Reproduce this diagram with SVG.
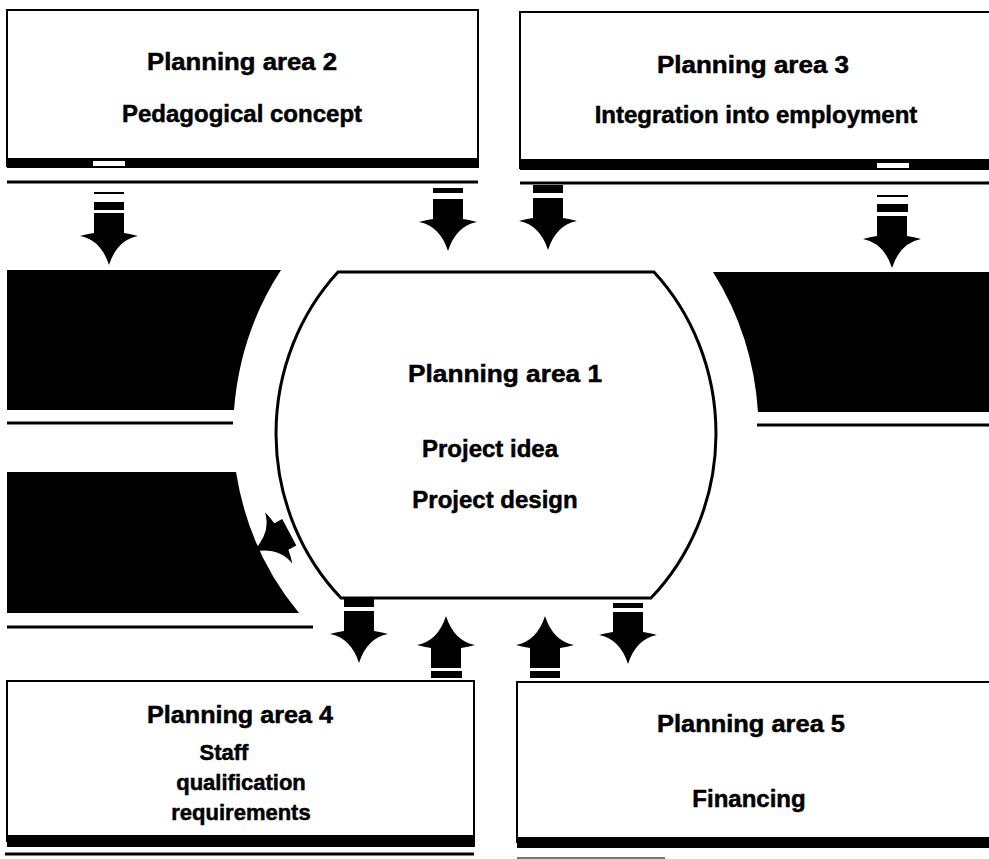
<svg xmlns="http://www.w3.org/2000/svg" xmlns:xlink="http://www.w3.org/1999/xlink" width="989" height="859" viewBox="0 0 989 859">
  <style>
    .box { fill: #fff; stroke: #000; stroke-width: 2; }
    .bar { fill: #000; }
    .rule { stroke: #000; stroke-width: 3; fill: none; }
    .band { fill: #000; }
    .core { fill: #fff; stroke: #000; stroke-width: 3; }
    .txt { font-family: "Liberation Sans", Arial, Helvetica, sans-serif; font-weight: bold; font-size: 24px; fill: #000; stroke: #000; stroke-width: 0.5; text-anchor: middle; }
    .small { font-size: 22px; }
    .arrow { fill: #000; }
  </style>
  <defs>
    <!-- spade-headed block arrow pointing down; origin = top centre of shaft -->
    <path id="arrow-down" d="M -15 0 H 15 V 20 Q 22 21 29 23 Q 8 27 0 52 Q -8 27 -29 23 Q -22 21 -15 20 Z"/>
    <!-- same head with a short shaft -->
    <path id="arrow-head" d="M -15 11 H 15 V 20 Q 22 21 29 23 Q 8 27 0 52 Q -8 27 -29 23 Q -22 21 -15 20 Z"/>
  </defs>

  <rect width="989" height="859" fill="#fff"/>

  <!-- black side bands around the central area -->
  <g id="bands">
    <path class="band" d="M 7 270 H 281 A 263 284 0 0 0 234 410 H 7 Z"/>
    <line class="rule" x1="7" y1="423" x2="233" y2="423"/>
    <path class="band" d="M 989 272 H 713 A 263 284 0 0 1 758 412 H 989 Z"/>
    <line class="rule" x1="757" y1="425" x2="989" y2="425"/>
    <path class="band" d="M 7 472 H 236 A 263 284 0 0 0 299 613 H 7 Z"/>
    <line class="rule" x1="7" y1="627" x2="313" y2="627"/>
  </g>

  <!-- Planning area 2 -->
  <g id="area2">
    <rect class="box" x="7" y="10" width="471" height="156"/>
    <rect class="bar" x="7" y="158" width="472" height="10"/>
    <rect x="93" y="161" width="32" height="5" fill="#fff"/>
    <line class="rule" x1="7" y1="182" x2="478" y2="182"/>
    <text class="txt" x="242" y="70" textLength="190" lengthAdjust="spacingAndGlyphs">Planning area 2</text>
    <text class="txt" x="242" y="122">Pedagogical concept</text>
  </g>

  <!-- Planning area 3 -->
  <g id="area3">
    <rect class="box" x="520" y="12" width="480" height="156"/>
    <rect class="bar" x="520" y="159" width="470" height="11"/>
    <rect x="877" y="163" width="32" height="5" fill="#fff"/>
    <line class="rule" x1="520" y1="183" x2="989" y2="183"/>
    <text class="txt" x="753" y="73" textLength="192" lengthAdjust="spacingAndGlyphs">Planning area 3</text>
    <text class="txt" x="756" y="123">Integration into employment</text>
  </g>

  <!-- Planning area 1 (centre) -->
  <g id="area1">
    <path class="core" d="M 338 272 H 654 A 220 232 0 0 1 651 598 H 341 A 220 232 0 0 1 338 272 Z"/>
    <text class="txt" x="505" y="382" textLength="194" lengthAdjust="spacingAndGlyphs">Planning area 1</text>
    <text class="txt" x="490" y="457">Project idea</text>
    <text class="txt" x="495" y="508">Project design</text>
  </g>

  <!-- Planning area 4 -->
  <g id="area4">
    <rect class="box" x="7" y="681" width="467" height="160"/>
    <rect class="bar" x="7" y="835" width="468" height="12"/>
    <line class="rule" x1="5" y1="854" x2="474" y2="854"/>
    <text class="txt" x="240" y="723" textLength="186" lengthAdjust="spacingAndGlyphs">Planning area 4</text>
    <text class="txt small" x="224" y="760">Staff</text>
    <text class="txt small" x="241" y="790">qualification</text>
    <text class="txt small" x="241" y="820">requirements</text>
  </g>

  <!-- Planning area 5 -->
  <g id="area5">
    <rect class="box" x="517" y="682" width="480" height="160"/>
    <rect class="bar" x="517" y="837" width="472" height="11"/>
    <line x1="517" y1="858" x2="665" y2="858" stroke="#777" stroke-width="2"/>
    <text class="txt" x="751" y="732" textLength="188" lengthAdjust="spacingAndGlyphs">Planning area 5</text>
    <text class="txt" x="749" y="807">Financing</text>
  </g>

  <!-- connectors: block arrows with their stripe marks -->
  <g id="connectors" class="arrow">
    <!-- area 2 -> band -->
    <rect x="94" y="192" width="30" height="2"/>
    <rect x="94" y="202" width="30" height="8"/>
    <use xlink:href="#arrow-down" transform="translate(109 213)"/>
    <!-- area 2 -> area 1 -->
    <rect x="433" y="188" width="30" height="5"/>
    <use xlink:href="#arrow-down" transform="translate(448 199)"/>
    <!-- area 3 -> area 1 -->
    <rect x="533" y="185" width="30" height="8"/>
    <use xlink:href="#arrow-down" transform="translate(548 198)"/>
    <!-- area 3 -> band -->
    <rect x="877" y="195" width="31" height="2"/>
    <rect x="877" y="204" width="31" height="8"/>
    <use xlink:href="#arrow-down" transform="translate(892 216)"/>
    <!-- area 1 -> lower band -->
    <use xlink:href="#arrow-head" transform="translate(299 527) rotate(62)"/>
    <!-- area 1 -> area 4 -->
    <rect x="344" y="598" width="30" height="9"/>
    <use xlink:href="#arrow-down" transform="translate(359 611)"/>
    <!-- area 4 -> area 1 -->
    <rect x="431" y="671" width="31" height="7"/>
    <use xlink:href="#arrow-down" transform="translate(446 668) rotate(180)"/>
    <!-- area 5 -> area 1 -->
    <rect x="530" y="671" width="30" height="7"/>
    <use xlink:href="#arrow-down" transform="translate(545 668) rotate(180)"/>
    <!-- area 1 -> area 5 -->
    <rect x="613" y="603" width="30" height="5"/>
    <use xlink:href="#arrow-down" transform="translate(628 612)"/>
  </g>
</svg>
